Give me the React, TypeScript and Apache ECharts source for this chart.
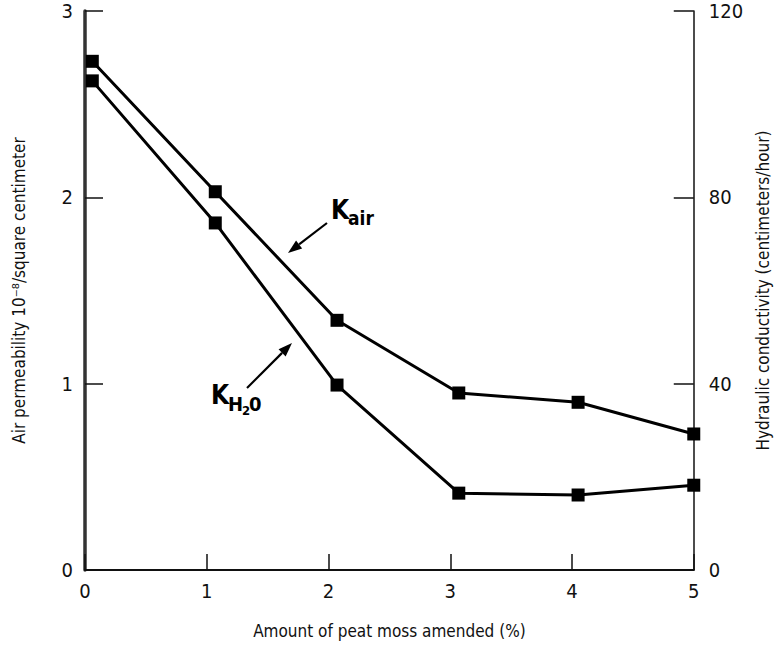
import React, { useEffect, useRef } from "react";
import * as echarts from "echarts";

// Data
const peatMoss = [0.06, 1.07, 2.07, 3.07, 4.05, 5.0];
const kAir = [2.73, 2.03, 1.34, 0.95, 0.9, 0.73]; // left axis, 10^-8 / cm^2
const kH2O = [105, 74.5, 39.7, 16.5, 16.1, 18.2]; // right axis, cm/hour
const xTicks = [0, 1, 2, 3, 4, 5];
const leftTicks = [0, 1, 2, 3];
const rightTicks = [0, 40, 80, 120];

const FONT = "'Liberation Sans Narrow', 'DejaVu Sans Condensed', 'Liberation Sans', sans-serif";

function arrow(tail: number[], tip: number[]) {
  const dx = tip[0] - tail[0];
  const dy = tip[1] - tail[1];
  const len = Math.sqrt(dx * dx + dy * dy);
  const ux = dx / len;
  const uy = dy / len;
  const nx = -uy;
  const ny = ux;
  const headLen = 14;
  const half = 5;
  const bx = tip[0] - headLen * ux;
  const by = tip[1] - headLen * uy;
  return [
    {
      type: "line",
      shape: { x1: tail[0], y1: tail[1], x2: bx, y2: by },
      style: { stroke: "#000", lineWidth: 2.2 },
    },
    {
      type: "polygon",
      shape: {
        points: [
          [tip[0], tip[1]],
          [bx + half * nx, by + half * ny],
          [bx - half * nx, by - half * ny],
        ],
      },
      style: { fill: "#000" },
    },
  ];
}

export default function App() {
  const ref = useRef<HTMLDivElement>(null);
  useEffect(() => {
    document.body.style.margin = "0";
    if (!ref.current) return;
    const chart = echarts.init(ref.current, null, { renderer: "svg" });
    const tickLabel = { fontFamily: FONT, fontSize: 20, color: "#111" };
    chart.setOption({
      animation: false,
      backgroundColor: "#fff",
      grid: { left: 85, right: 84, top: 11, bottom: 75 },
      xAxis: {
        type: "value",
        min: 0,
        max: 5,
        interval: 1,
        name: "Amount of peat moss amended (%)",
        nameLocation: "middle",
        nameGap: 52,
        nameTextStyle: { fontFamily: FONT, fontSize: 17, color: "#111" },
        axisLine: { show: true, lineStyle: { color: "#111", width: 2 } },
        axisTick: { show: true, inside: true, length: 16, lineStyle: { color: "#111", width: 1.5 } },
        axisLabel: {
          ...tickLabel,
          margin: 11,
          customValues: xTicks,
          formatter: (v: number) => String(v),
        },
        splitLine: { show: false },
      },
      yAxis: [
        {
          type: "value",
          position: "left",
          min: 0,
          max: 3,
          interval: 1,
          name: "Air permeability 10⁻⁸/square centimeter",
          nameLocation: "middle",
          nameGap: 58,
          nameTextStyle: { fontFamily: FONT, fontSize: 17, color: "#111" },
          axisLine: { show: true, lineStyle: { color: "#333", width: 3.5 } },
          axisTick: { show: true, inside: true, length: 18, lineStyle: { color: "#111", width: 1.5 } },
          axisLabel: { ...tickLabel, margin: 12, customValues: leftTicks },
          splitLine: { show: false },
        },
        {
          type: "value",
          position: "right",
          min: 0,
          max: 120,
          interval: 40,
          name: "Hydraulic conductivity (centimeters/hour)",
          nameLocation: "middle",
          nameGap: 60,
          nameTextStyle: { fontFamily: FONT, fontSize: 17, color: "#111" },
          axisLine: { show: true, lineStyle: { color: "#111", width: 1.5 } },
          axisTick: { show: true, inside: true, length: 20, lineStyle: { color: "#111", width: 1.5 } },
          axisLabel: { ...tickLabel, margin: 15, customValues: rightTicks },
          splitLine: { show: false },
        },
      ],
      series: [
        {
          name: "Kair",
          type: "line",
          yAxisIndex: 0,
          data: peatMoss.map((x, i) => [x, kAir[i]]),
          symbol: "rect",
          symbolSize: 13,
          lineStyle: { color: "#000", width: 3 },
          itemStyle: { color: "#000" },
        },
        {
          name: "KH2O",
          type: "line",
          yAxisIndex: 1,
          data: peatMoss.map((x, i) => [x, kH2O[i]]),
          symbol: "rect",
          symbolSize: 13,
          lineStyle: { color: "#000", width: 3 },
          itemStyle: { color: "#000" },
        },
      ],
      graphic: [
        ...arrow([327, 223], [288, 253]),
        ...arrow([247, 388], [292, 343]),
        {
          type: "text",
          x: 331,
          y: 197,
          style: { text: "K", font: `bold 26px ${FONT}`, fill: "#000" },
        },
        {
          type: "text",
          x: 348,
          y: 208,
          style: { text: "air", font: `bold 19px ${FONT}`, fill: "#000" },
        },
        {
          type: "text",
          x: 211,
          y: 382,
          style: { text: "K", font: `bold 26px ${FONT}`, fill: "#000" },
        },
        {
          type: "text",
          x: 228,
          y: 394,
          style: { text: "H", font: `bold 20px ${FONT}`, fill: "#000" },
        },
        {
          type: "text",
          x: 242,
          y: 404,
          style: { text: "2", font: `bold 13px ${FONT}`, fill: "#000" },
        },
        {
          type: "text",
          x: 249,
          y: 394,
          style: { text: "0", font: `bold 20px ${FONT}`, fill: "#000" },
        },
      ],
    });
    return () => chart.dispose();
  }, []);
  return <div ref={ref} style={{ width: 779, height: 645 }} />;
}
